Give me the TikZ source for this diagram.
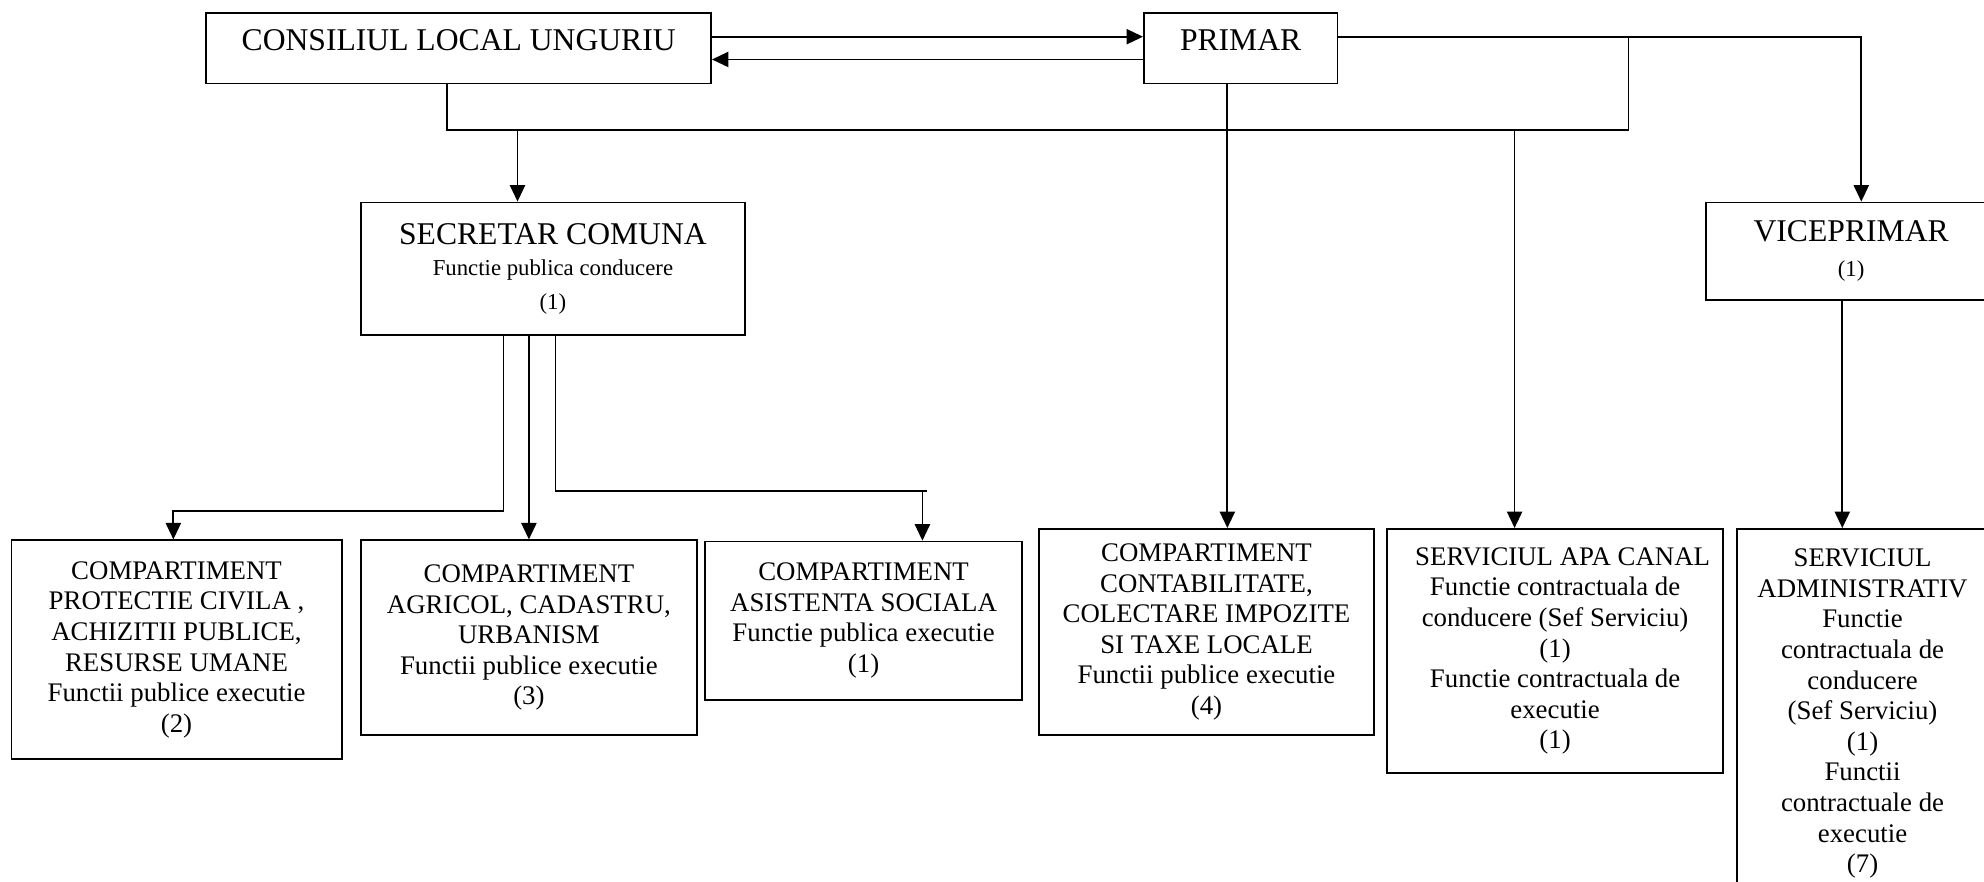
\documentclass[tikz,border=0pt]{standalone}
\usepackage{fontspec}
\setmainfont{Liberation Serif}
\usetikzlibrary{arrows.meta}

\tikzset{
  orgbox/.style={draw, line width=0.7pt, align=center, inner sep=1pt,
    font=\fontsize{10.6}{12.1}\selectfont},
  headbox/.style={orgbox, font=\fontsize{12.5}{13.5}\selectfont},
  conn/.style={line width=0.7pt},
  connarr/.style={conn, -{Triangle[length=6.5pt,width=6pt]}},
}

\begin{document}
\begin{tikzpicture}[x=0.5pt,y=-0.5pt]
\useasboundingbox (0,0) rectangle (1568,697);

% top level
\node[headbox, minimum width=199.5pt, minimum height=28pt, text depth=6pt] (consiliu) at (362.5,38) {CONSILIUL LOCAL UNGURIU};
\node[headbox, minimum width=76.5pt, minimum height=28pt, text depth=6pt] (primar) at (980.5,38) {PRIMAR};

% second level
\node[headbox, minimum width=152pt, minimum height=52.5pt] (secretar) at (437,212.5)
  {SECRETAR COMUNA\\[-1pt] {\fontsize{9}{13}\selectfont Functie publica conducere}\\[0pt] {\fontsize{9}{13}\selectfont (1)}};
\node[headbox, minimum width=115pt, minimum height=38.5pt] (viceprimar) at (1463,198.5)
  {VICEPRIMAR\\[0.5pt] {\fontsize{9}{13}\selectfont (1)}};

% compartimente
\node[orgbox, minimum width=130.5pt, minimum height=86.5pt] (protectie) at (139.5,513.5)
  {COMPARTIMENT\\ PROTECTIE CIVILA ,\\ ACHIZITII PUBLICE,\\ RESURSE UMANE\\ Functii publice executie\\ (2)};
\node[orgbox, minimum width=133pt, minimum height=77pt] (agricol) at (418,504)
  {COMPARTIMENT\\ AGRICOL, CADASTRU,\\ URBANISM\\ Functii publice executie\\ (3)};
\node[orgbox, minimum width=125.5pt, minimum height=62.5pt] (asistenta) at (682.5,490.5)
  {COMPARTIMENT\\ ASISTENTA SOCIALA\\ Functie publica executie\\ (1)};
\node[orgbox, minimum width=132.5pt, minimum height=81.5pt] (contabil) at (953.5,499.5)
  {COMPARTIMENT\\ CONTABILITATE,\\ COLECTARE IMPOZITE\\ SI TAXE LOCALE\\ Functii publice executie\\ (4)};
\node[orgbox, minimum width=133pt, minimum height=96.5pt] (apacanal) at (1229,514.5)
  {\hspace*{6pt}SERVICIUL APA CANAL\\ Functie contractuala de\\ conducere (Sef Serviciu)\\ (1)\\ Functie contractuala de\\ executie\\ (1)};
\node[orgbox, minimum width=99pt, minimum height=146pt] (administrativ) at (1472,564)
  {SERVICIUL\\ ADMINISTRATIV\\ Functie\\ contractuala de\\ conducere\\ (Sef Serviciu)\\ (1)\\ Functii\\ contractuale de\\ executie\\ (7)};

% consiliu <-> primar
\draw[connarr] ([yshift=4.5pt]consiliu.east) -- ([yshift=4.5pt]primar.west);
\draw[connarr] ([yshift=-4.5pt]primar.west) -- ([yshift=-4.5pt]consiliu.east);

% primar -> viceprimar
\coordinate (vcorner) at (1471,29);
\draw[connarr] ([yshift=4.5pt]primar.east) -- (vcorner) -- (vcorner |- viceprimar.north);

% common bus
\coordinate (pbranch) at (1287,29);
\coordinate (cbus) at (353,103);
\coordinate (sdrop) at (409,103);
\coordinate (adrop) at (1197,103);
\draw[conn] (pbranch) |- (cbus) -- (cbus |- consiliu.south);
\draw[connarr] (sdrop) -- (sdrop |- secretar.north);
\draw[connarr] (adrop) -- (adrop |- apacanal.north);

% primar -> contabilitate
\coordinate (pdrop) at (970,66);
\draw[connarr] (pdrop) -- (pdrop |- contabil.north);

% viceprimar -> administrativ
\coordinate (vdrop) at (1456,237);
\draw[connarr] (vdrop) -- (vdrop |- administrativ.north);

% secretar -> compartimente
\coordinate (k1) at (398,265);
\coordinate (k1b) at (137,404);
\draw[connarr] (k1) |- (k1b) -- (k1b |- protectie.north);
\coordinate (k2) at (418,265);
\draw[connarr] (k2) -- (k2 |- agricol.north);
\coordinate (k3) at (439,265);
\coordinate (k3b) at (733,388);
\coordinate (k3c) at (729,388);
\draw[conn] (k3) |- (k3b);
\draw[connarr] (k3c) -- (k3c |- asistenta.north);
\end{tikzpicture}
\end{document}
